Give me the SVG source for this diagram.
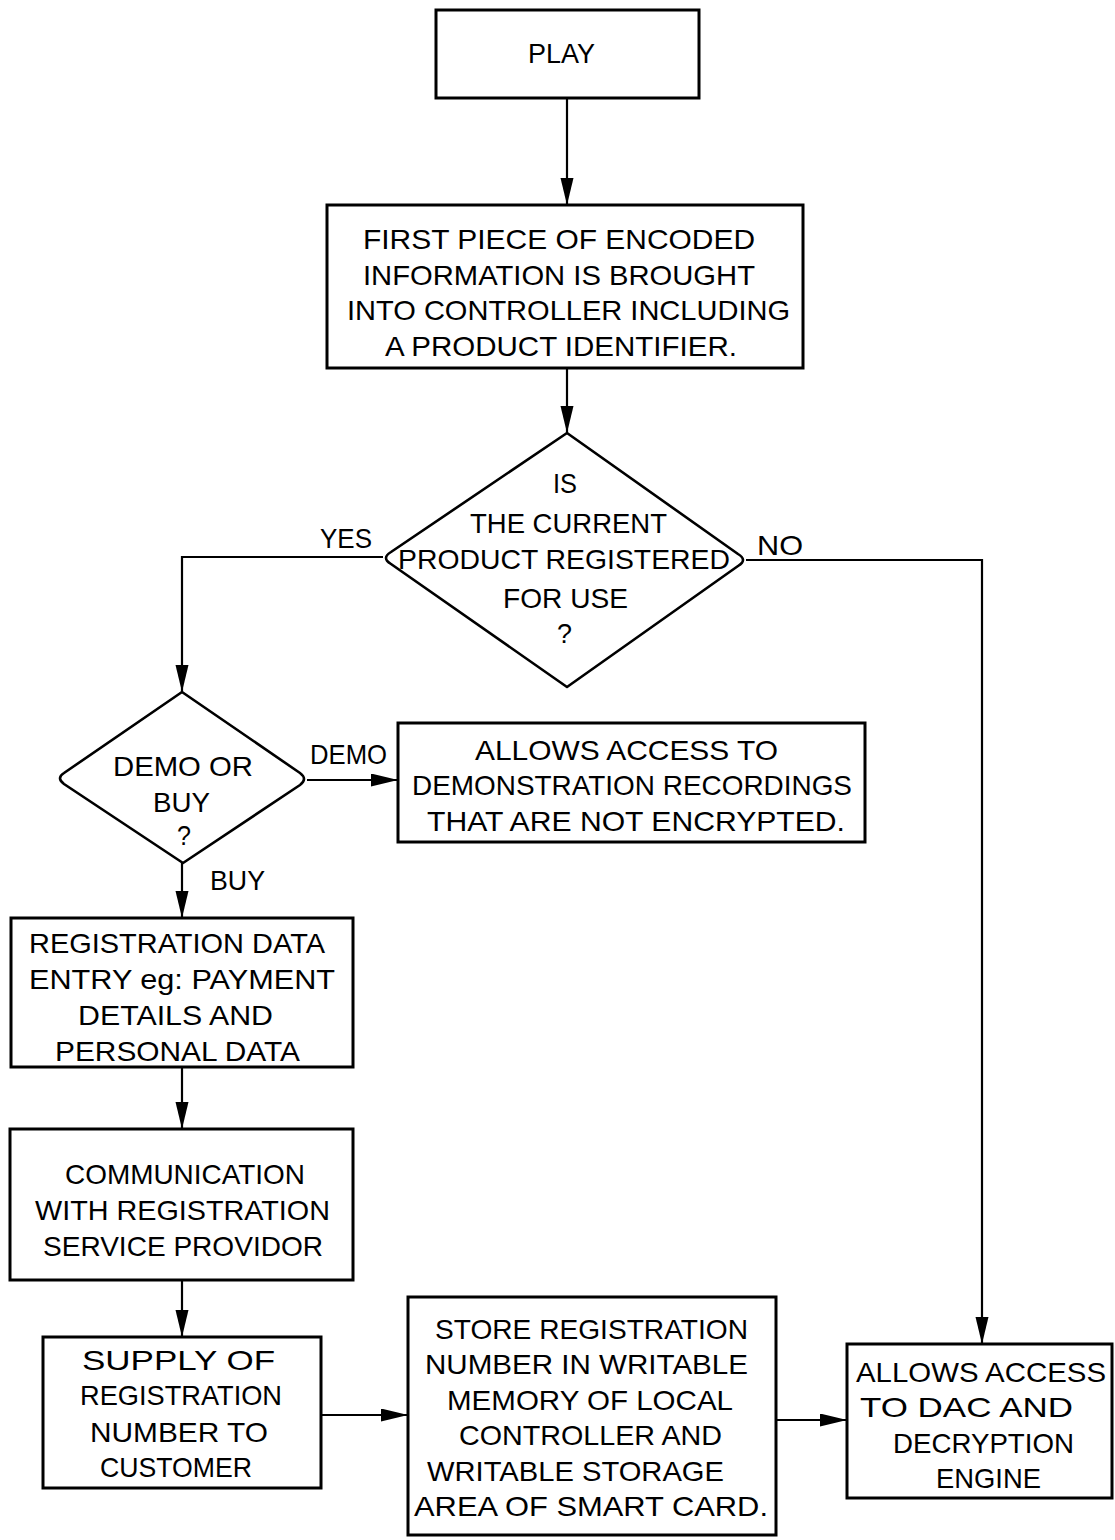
<svg xmlns="http://www.w3.org/2000/svg" width="1115" height="1540" viewBox="0 0 1115 1540">
<style>
  .box { fill: #fff; stroke: #000; stroke-width: 3; }
  .dia { fill: #fff; stroke: #000; stroke-width: 2.6; stroke-linejoin: round; }
  .ln { fill: none; stroke: #000; stroke-width: 2.2; }
  text { font-family: "Liberation Sans", Arial, sans-serif; font-size: 28px; fill: #000; }
</style>
<defs>
  <marker id="ah" markerUnits="userSpaceOnUse" markerWidth="28" markerHeight="14" refX="27" refY="6.5" orient="auto">
    <path d="M0,0 L27,6.5 L0,13 z" fill="#000"/>
  </marker>
</defs>
<rect width="1115" height="1540" fill="#fff"/>

<g id="connectors">
  <path class="ln" d="M567,98 V205" marker-end="url(#ah)"/>
  <path class="ln" d="M567,368 V433" marker-end="url(#ah)"/>
  <path class="ln" d="M383,557 H182 V692" marker-end="url(#ah)"/>
  <path class="ln" d="M746,560 H982 V1344" marker-end="url(#ah)"/>
  <path class="ln" d="M307,780 H398" marker-end="url(#ah)"/>
  <path class="ln" d="M182,863 V918" marker-end="url(#ah)"/>
  <path class="ln" d="M182,1067 V1129" marker-end="url(#ah)"/>
  <path class="ln" d="M182,1280 V1337" marker-end="url(#ah)"/>
  <path class="ln" d="M321,1415 H408" marker-end="url(#ah)"/>
  <path class="ln" d="M776,1420 H847" marker-end="url(#ah)"/>
  <text x="320" y="548" textLength="52" lengthAdjust="spacingAndGlyphs">YES</text>
  <text x="757" y="555" textLength="46" lengthAdjust="spacingAndGlyphs">NO</text>
  <text x="310" y="764" textLength="77" lengthAdjust="spacingAndGlyphs">DEMO</text>
  <text x="210" y="890" textLength="55" lengthAdjust="spacingAndGlyphs">BUY</text>
</g>

<g id="play">
  <rect class="box" x="436" y="10" width="263" height="88"/>
  <text x="528" y="63" textLength="67" lengthAdjust="spacingAndGlyphs">PLAY</text>
</g>

<g id="first-piece">
  <rect class="box" x="327" y="205" width="476" height="163"/>
  <text x="363" y="249" textLength="392" lengthAdjust="spacingAndGlyphs">FIRST PIECE OF ENCODED</text>
  <text x="363" y="285" textLength="392" lengthAdjust="spacingAndGlyphs">INFORMATION IS BROUGHT</text>
  <text x="347" y="320" textLength="443" lengthAdjust="spacingAndGlyphs">INTO CONTROLLER INCLUDING</text>
  <text x="385" y="356" textLength="352" lengthAdjust="spacingAndGlyphs">A PRODUCT IDENTIFIER.</text>
</g>

<g id="registered-decision">
  <path class="dia" d="M567,433 L391,552 Q381,558 391,564 L567,687 L738,566 Q748,560 738,554 Z"/>
  <text x="553" y="493" textLength="24" lengthAdjust="spacingAndGlyphs">IS</text>
  <text x="470" y="533" textLength="197" lengthAdjust="spacingAndGlyphs">THE CURRENT</text>
  <text x="398" y="569" textLength="332" lengthAdjust="spacingAndGlyphs">PRODUCT REGISTERED</text>
  <text x="503" y="608" textLength="125" lengthAdjust="spacingAndGlyphs">FOR USE</text>
  <text x="557" y="643" textLength="15" lengthAdjust="spacingAndGlyphs">?</text>
</g>

<g id="demo-buy-decision">
  <path class="dia" d="M182,692 L64,773 Q56,778 64,784 L183,863 L300,785 Q308,779 300,773 Z"/>
  <text x="113" y="776" textLength="140" lengthAdjust="spacingAndGlyphs">DEMO OR</text>
  <text x="153" y="812" textLength="57" lengthAdjust="spacingAndGlyphs">BUY</text>
  <text x="177" y="845" textLength="14" lengthAdjust="spacingAndGlyphs">?</text>
</g>

<g id="demo-access">
  <rect class="box" x="398" y="723" width="467" height="119"/>
  <text x="475" y="760" textLength="303" lengthAdjust="spacingAndGlyphs">ALLOWS ACCESS TO</text>
  <text x="412" y="795" textLength="440" lengthAdjust="spacingAndGlyphs">DEMONSTRATION RECORDINGS</text>
  <text x="427" y="831" textLength="418" lengthAdjust="spacingAndGlyphs">THAT ARE NOT ENCRYPTED.</text>
</g>

<g id="registration-data">
  <rect class="box" x="11" y="918" width="342" height="149"/>
  <text x="29" y="953" textLength="296" lengthAdjust="spacingAndGlyphs">REGISTRATION DATA</text>
  <text x="29" y="989" textLength="306" lengthAdjust="spacingAndGlyphs">ENTRY eg: PAYMENT</text>
  <text x="78" y="1025" textLength="195" lengthAdjust="spacingAndGlyphs">DETAILS AND</text>
  <text x="55" y="1061" textLength="245" lengthAdjust="spacingAndGlyphs">PERSONAL DATA</text>
</g>

<g id="communication">
  <rect class="box" x="10" y="1129" width="343" height="151"/>
  <text x="65" y="1184" textLength="240" lengthAdjust="spacingAndGlyphs">COMMUNICATION</text>
  <text x="35" y="1220" textLength="295" lengthAdjust="spacingAndGlyphs">WITH REGISTRATION</text>
  <text x="43" y="1256" textLength="280" lengthAdjust="spacingAndGlyphs">SERVICE PROVIDOR</text>
</g>

<g id="supply">
  <rect class="box" x="43" y="1337" width="278" height="151"/>
  <text x="82" y="1370" textLength="193" lengthAdjust="spacingAndGlyphs">SUPPLY OF</text>
  <text x="80" y="1405" textLength="202" lengthAdjust="spacingAndGlyphs">REGISTRATION</text>
  <text x="90" y="1442" textLength="178" lengthAdjust="spacingAndGlyphs">NUMBER TO</text>
  <text x="100" y="1477" textLength="152" lengthAdjust="spacingAndGlyphs">CUSTOMER</text>
</g>

<g id="store">
  <rect class="box" x="408" y="1297" width="368" height="238"/>
  <text x="435" y="1339" textLength="313" lengthAdjust="spacingAndGlyphs">STORE REGISTRATION</text>
  <text x="425" y="1374" textLength="323" lengthAdjust="spacingAndGlyphs">NUMBER IN WRITABLE</text>
  <text x="447" y="1410" textLength="286" lengthAdjust="spacingAndGlyphs">MEMORY OF LOCAL</text>
  <text x="459" y="1445" textLength="263" lengthAdjust="spacingAndGlyphs">CONTROLLER AND</text>
  <text x="427" y="1481" textLength="297" lengthAdjust="spacingAndGlyphs">WRITABLE STORAGE</text>
  <text x="414" y="1516" textLength="354" lengthAdjust="spacingAndGlyphs">AREA OF SMART CARD.</text>
</g>

<g id="dac-access">
  <rect class="box" x="847" y="1344" width="265" height="154"/>
  <text x="856" y="1382" textLength="250" lengthAdjust="spacingAndGlyphs">ALLOWS ACCESS</text>
  <text x="860" y="1417" textLength="213" lengthAdjust="spacingAndGlyphs">TO DAC AND</text>
  <text x="893" y="1453" textLength="181" lengthAdjust="spacingAndGlyphs">DECRYPTION</text>
  <text x="936" y="1488" textLength="105" lengthAdjust="spacingAndGlyphs">ENGINE</text>
</g>
</svg>
